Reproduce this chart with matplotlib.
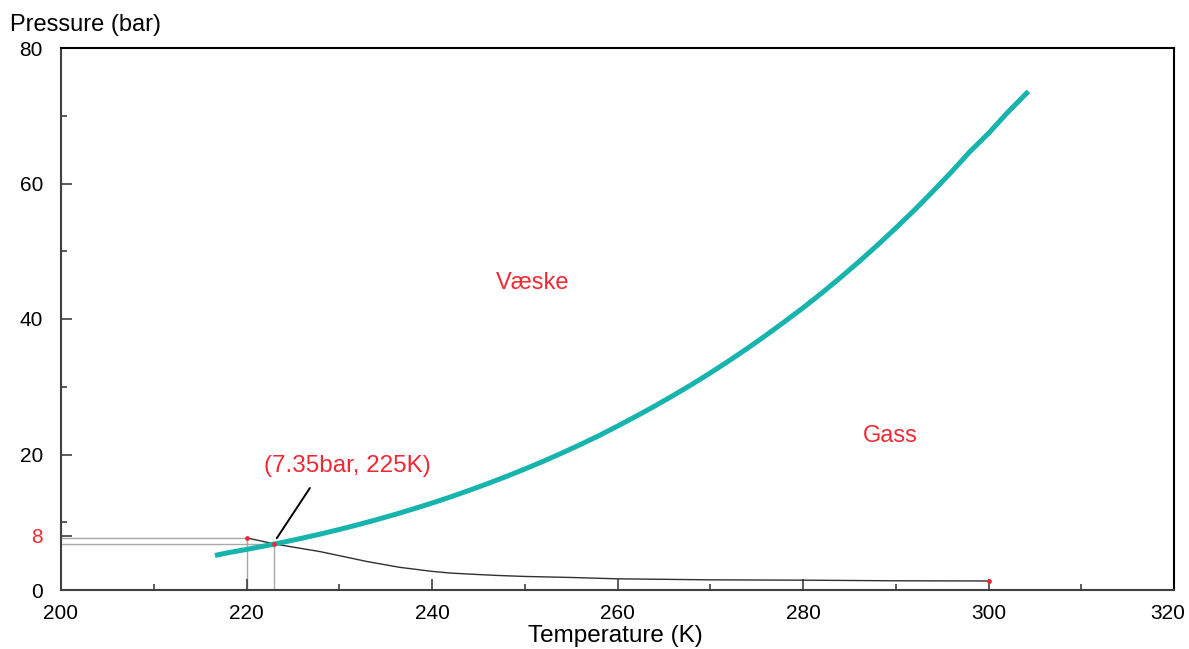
import matplotlib.pyplot as plt
import matplotlib.transforms as mtransforms
from matplotlib.ticker import MultipleLocator

plt.rcParams['font.family'] = ['Liberation Sans', 'DejaVu Sans']

# saturation curve (CO2)
sat_T = [216.6, 218, 220, 222, 224, 226, 228, 230, 232, 234, 236, 238, 240,
         242, 244, 246, 248, 250, 252, 254, 256, 258, 260, 262, 264, 266,
         268, 270, 272, 274, 276, 278, 280, 282, 284, 286, 288, 290, 292,
         294, 296, 298, 300, 302, 304.3]
sat_P = [5.1, 5.5, 5.99, 6.51, 7.06, 7.65, 8.27, 8.93, 9.63, 10.37, 11.15,
         11.97, 12.83, 13.74, 14.70, 15.70, 16.75, 17.85, 19.00, 20.21, 21.47,
         22.78, 24.19, 25.64, 27.14, 28.70, 30.33, 32.03, 33.81, 35.66, 37.59,
         39.59, 41.64, 43.81, 46.07, 48.42, 50.87, 53.42, 56.06, 58.83, 61.70,
         64.71, 67.40, 70.40, 73.6]

# process line
proc_T = [220, 223, 228, 233, 236.5, 240, 242, 244, 247, 250, 255, 260, 270,
          280, 290, 300]
proc_P = [7.7, 6.8, 5.65, 4.2, 3.35, 2.75, 2.5, 2.35, 2.15, 2.0, 1.85, 1.65,
          1.5, 1.45, 1.36, 1.33]

# marked points
mark_T = [220, 223, 300]
mark_P = [7.7, 6.8, 1.35]

RED = '#ee2a35'
CYAN = '#17b3ad'

fig = plt.figure(figsize=(11.89, 6.49), dpi=100)
ax = fig.add_axes([61 / 1189, 1 - 590 / 649, (1174 - 61) / 1189, (590 - 48) / 649])

ax.plot(sat_T, sat_P, color=CYAN, lw=3.6, solid_capstyle='butt', zorder=3)
ax.plot(proc_T, proc_P, color='#303030', lw=1.0, zorder=2)

# guide lines to the axes
for t, p in zip(mark_T[:2], mark_P[:2]):
    ax.plot([200, t], [p, p], color='#a8a8a8', lw=1.0, zorder=1)
    ax.plot([t, t], [0, p], color='#a8a8a8', lw=1.0, zorder=1)

ax.scatter(mark_T, mark_P, s=12, color=RED, zorder=4, linewidths=0)

ax.annotate('', xy=(223.1, 7.3), xytext=(227.0, 15.4),
            arrowprops=dict(arrowstyle='-', color='black', lw=1.4))
ax.text(230.9, 18.3, '(7.35bar, 225K)', color=RED, fontsize=17.5,
        ha='center', va='center')
ax.text(250.9, 45.3, 'Væske', color=RED, fontsize=17, ha='center', va='center')
ax.text(289.4, 22.7, 'Gass', color=RED, fontsize=17, ha='center', va='center')

ax.set_xlim(200, 320)
ax.set_ylim(0, 80)
ax.set_xticks([200, 220, 240, 260, 280, 300, 320])
ax.set_yticks([0, 8, 20, 40, 60, 80])
ax.xaxis.set_minor_locator(MultipleLocator(10))
ax.yaxis.set_minor_locator(MultipleLocator(10))
ax.tick_params(which='major', direction='in', length=8, width=1.2,
               labelsize=15, color='#404040')
ax.tick_params(which='minor', direction='in', length=4, width=1.2,
               color='#404040')
ax.tick_params(axis='x', which='major', pad=10)
ax.tick_params(axis='y', which='major', pad=13)
ax.get_yticklabels()[1].set_color(RED)

# keep the last x label inside the figure
last = ax.get_xticklabels()[-1]
last.set_transform(last.get_transform() +
                   mtransforms.ScaledTranslation(-6 / 100, 0, fig.dpi_scale_trans))

for side in ['left', 'bottom']:
    ax.spines[side].set_color('#404040')
    ax.spines[side].set_linewidth(1.5)
for side in ['top', 'right']:
    ax.spines[side].set_color('black')
    ax.spines[side].set_linewidth(1.5)

fig.text(10 / 1189, 1 - 25 / 649, 'Pressure (bar)', fontsize=17,
         ha='left', va='center')
fig.text(615 / 1189, 1 - 636 / 649, 'Temperature (K)', fontsize=17.5,
         ha='center', va='center')

fig.savefig('out.png', dpi=100)
